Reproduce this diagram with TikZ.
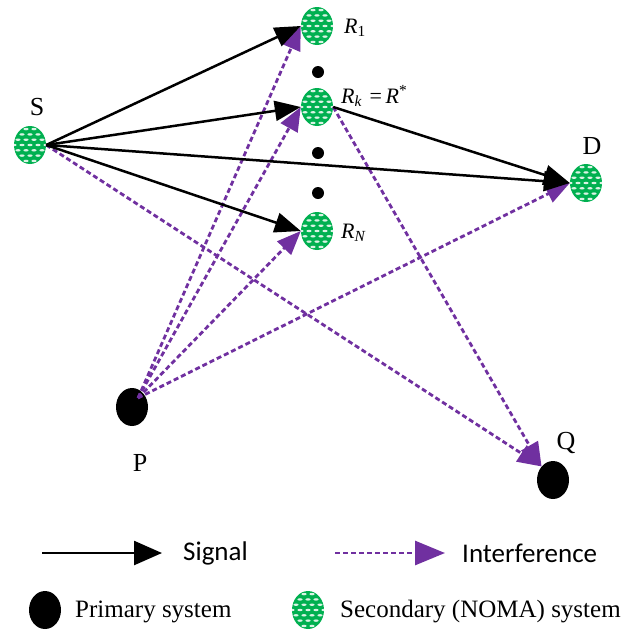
\documentclass[tikz,border=0pt]{standalone}
\usepackage{fontspec}
\setmainfont{Liberation Serif}
\newfontfamily\sigfont{Carlito}
\usetikzlibrary{arrows.meta,shapes.geometric}
\definecolor{nomagreen}{RGB}{0,176,80}
\definecolor{intpurple}{RGB}{112,48,160}
\tikzset{
  x=1pt,y=-1pt,
  secnode/.style={ellipse,fill=nomagreen,minimum width=32pt,minimum height=38pt,inner sep=0pt,
    path picture={
      \foreach \i in {-4,...,4}{
        \foreach \j in {-3,...,3}{
          \pgfmathsetmacro\xo{\j*8+4*mod(abs(\i),2)}
          \fill[white,opacity=0.85] ([xshift=\xo pt,yshift={\i*5.3pt}]path picture bounding box.center) ellipse [x radius=2.6pt,y radius=1.2pt];
        }}
    }},
  primnode/.style={ellipse,fill=black,minimum width=32pt,minimum height=38pt,inner sep=0pt},
  dotnode/.style={circle,fill=black,minimum size=12pt,inner sep=0pt},
  lbl/.style={font=\fontsize{26}{30}\selectfont,inner sep=0pt},
  rlbl/.style={font=\fontsize{22}{26}\selectfont,inner sep=0pt,anchor=west},
  sig/.style={line width=2.5pt,-{Triangle[length=26pt,width=20pt]}},
  intf/.style={intpurple,line width=2.8pt,dash pattern=on 5pt off 3pt,-{Triangle[length=24pt,width=19pt]}},
  legtxt/.style={font=\fontsize{25}{28}\selectfont,inner sep=0pt,anchor=west},
  legsans/.style={font=\sigfont\fontsize{27}{30}\selectfont,inner sep=0pt,anchor=west},
}
\begin{document}
\begin{tikzpicture}
\useasboundingbox (0,0) rectangle (639,630);
% nodes
\node[secnode] (S) at (30,145) {};
\node[secnode] (R1) at (317,26) {};
\node[dotnode] (d1) at (318,72) {};
\node[secnode] (Rk) at (317,107) {};
\node[dotnode] (d2) at (318,153) {};
\node[dotnode] (d3) at (318,193) {};
\node[secnode] (RN) at (317,231) {};
\node[secnode] (D) at (586,183) {};
\node[primnode] (P) at (132,407) {};
\node[primnode] (Q) at (553,480) {};
% labels
\node[lbl] (lS) at (37,107) {S};
\node[lbl] (lD) at (592,146) {D};
\node[lbl] (lP) at (140,463) {P};
\node[lbl] (lQ) at (566,443) {Q};
\node[rlbl] (lR1) at (344,28) {\textit{R}\textsubscript{1}};
\node[rlbl] (lRk) at (341,96) {\textit{R}\textsubscript{\textit{k}}\,\,=\,\textit{R}\textsuperscript{*}};
\node[rlbl] (lRN) at (341,233) {\textit{R}\textsubscript{\textit{N}}};
% interference
\coordinate (Po) at (138,398);
\draw[intf] (Po) -- (R1.west);
\draw[intf] (Po) -- (Rk.west);
\draw[intf] (Po) -- (RN.west);
\draw[intf] (Po) -- (D.west);
\draw[intf] (S.east) -- (Q.north west);
\draw[intf] (Rk.east) -- (Q.north west);
% signals
\draw[sig] (S.east) -- (R1.west);
\draw[sig] (S.east) -- (Rk.west);
\draw[sig] (S.east) -- (RN.west);
\draw[sig] (S.east) -- (D.west);
\draw[sig] (Rk.east) -- (D.west);
% legend
\coordinate (ls1) at (42,553);
\coordinate (ls2) at (162,553);
\draw[sig,-{Triangle[length=28pt,width=24pt]}] (ls1) -- (ls2);
\node[legsans] (tSig) at (183,553) {Signal};
\coordinate (li1) at (335,553);
\coordinate (li2) at (445,553);
\draw[intf,-{Triangle[length=30pt,width=24pt]}] (li1) -- (li2);
\node[legsans] (tInt) at (462,553) {Interference};
\node[primnode] (lgP) at (45,610) {};
\node[legtxt] (tPrim) at (75,612) {Primary system};
\node[secnode] (lgS) at (308,610) {};
\node[legtxt] (tSec) at (340,612) {Secondary (NOMA) system};
\end{tikzpicture}
\end{document}
